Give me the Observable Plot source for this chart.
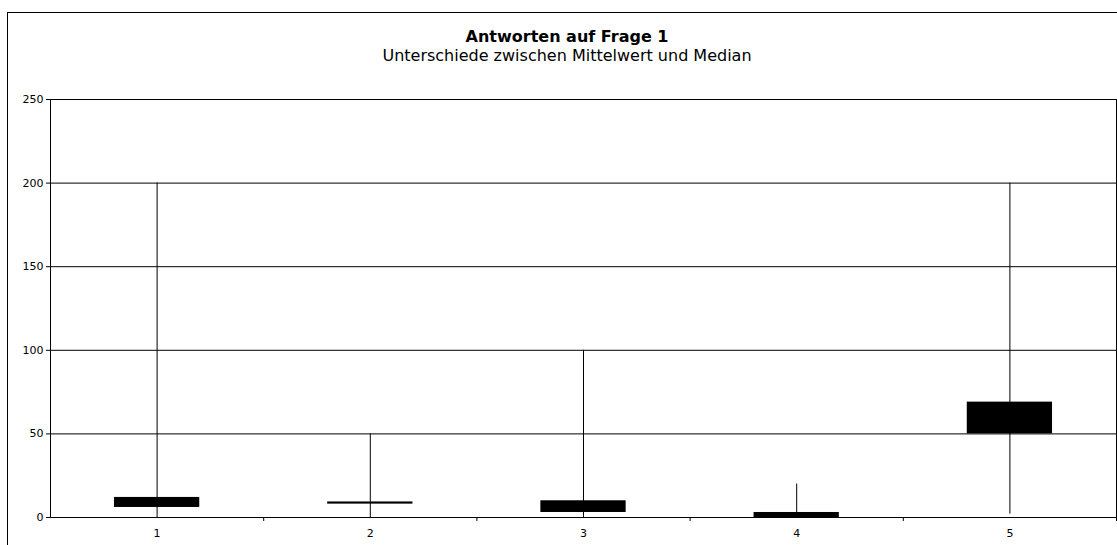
<!DOCTYPE html>
<html>
<head>
<meta charset="utf-8">
<script src="https://cdn.jsdelivr.net/npm/d3@7"></script>
<script src="https://cdn.jsdelivr.net/npm/@observablehq/plot@0.6"></script>
<style>
  html, body { margin: 0; padding: 0; background: white; }
  #wrap { position: relative; width: 1117px; height: 545px; overflow: hidden; font-family: "DejaVu Sans", Verdana, sans-serif; }
  #border { position: absolute; left: 7px; top: 12px; width: 1200px; height: 600px; border-left: 1px solid #000; border-top: 1px solid #000; pointer-events: none; }
  #head { position: absolute; left: 0; top: 0; width: 1134px; height: 70px; text-align: center; color: #000; }
  #title { position: absolute; left: 0; right: 0; top: 29px; font-size: 16px; line-height: 16px; font-weight: bold; white-space: nowrap; }
  #subtitle { position: absolute; left: 0; right: 0; top: 47.5px; font-size: 16px; line-height: 16px; white-space: nowrap; }
  #chart { position: absolute; left: 0; top: 70px; }
</style>
</head>
<body>
<div id="wrap">
  <div id="head">
    <div id="title">Antworten auf Frage 1</div>
    <div id="subtitle">Unterschiede zwischen Mittelwert und Median</div>
  </div>
  <div id="chart"></div>
  <div id="border"></div>
</div>
<script>
const categories = [1, 2, 3, 4, 5];
const high  = [200, 50, 100, 20, 200];
const low   = [0, 0, 0, 0, 2];
const open  = [6, 8, 3, 0, 50];
const close = [12, 9.3, 10, 3, 69];
const yTicks = [0, 50, 100, 150, 200, 250];
const gridValues = [50, 100, 150, 200, 250];
const boundaryTicks = [1.5, 2.5, 3.5, 4.5, 5.5];

const data = categories.map((c, i) => ({cat: c, high: high[i], low: low[i], open: open[i], close: close[i]}));

const chart = Plot.plot({
  width: 1117,
  height: 475,
  marginTop: 29,
  marginBottom: 28,
  marginLeft: 50,
  marginRight: 1,
  style: {fontFamily: "DejaVu Sans, Verdana, sans-serif", fontSize: "11px", background: "white", color: "#000"},
  x: {domain: [0.5, 5.5]},
  y: {domain: [0, 250]},
  marks: [
    Plot.ruleY(gridValues, {stroke: "#000", strokeWidth: 1}),
    Plot.ruleX(data, {x: "cat", y1: "low", y2: "high", stroke: "#000", strokeWidth: 1}),
    Plot.rectY(data, {x1: d => d.cat - 0.2, x2: d => d.cat + 0.2, y1: "open", y2: "close", fill: "#000"}),
    Plot.frame({stroke: "#000"}),
    Plot.axisY({ticks: yTicks, tickSize: 4, tickPadding: 3, label: null, tickFormat: d => String(d)}),
    Plot.axisX({ticks: boundaryTicks, tickSize: 4, tickFormat: () => "", label: null}),
    Plot.axisX({ticks: categories, tickSize: 0, tickPadding: 12, label: null, tickFormat: d => String(d)})
  ]
});
document.getElementById("chart").appendChild(chart);
</script>
</body>
</html>
